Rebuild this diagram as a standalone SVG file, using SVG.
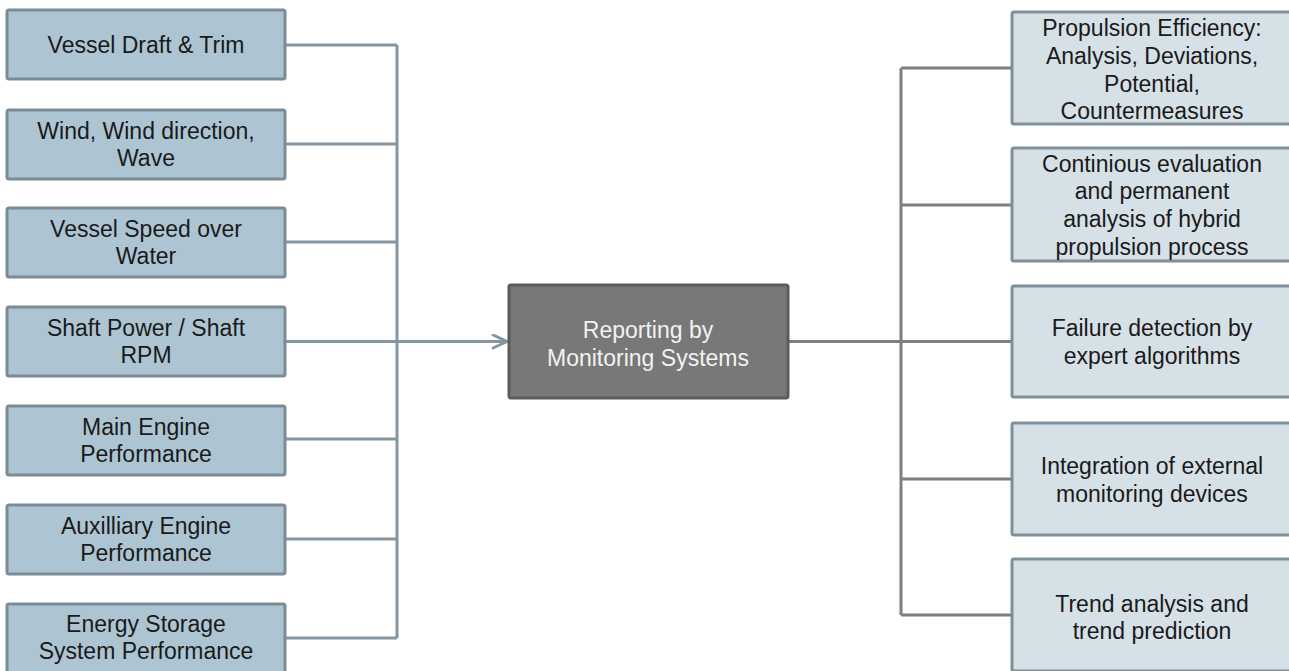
<svg xmlns="http://www.w3.org/2000/svg" width="1289" height="671" viewBox="0 0 1289 671">
<style>
text{font-family:"Liberation Sans",Arial,sans-serif;font-size:23px;text-anchor:middle}
.in rect{fill:#adc5d2;stroke:#7b8c96;stroke-width:3}
.in text{fill:#1a1a1a}
.out rect{fill:#d6e0e7;stroke:#7f909a;stroke-width:3}
.out text{fill:#1a1a1a}
.lc{fill:none;stroke:#8496a1;stroke-width:3}
.rc{fill:none;stroke:#7f7f7f;stroke-width:3}
</style>
<defs>
<marker id="arr" markerWidth="20" markerHeight="20" refX="16" refY="8" orient="auto" markerUnits="userSpaceOnUse">
<path d="M1,1 L16,8 L1,15" fill="none" stroke="#8496a1" stroke-width="3"/>
</marker>
</defs>
<g id="connectors">
<path class="lc" d="M285,45 H397 M285,144 H397 M285,242 H397 M285,439 H397 M285,539 H397 M285,638 H397 M397,45 V638"/>
<path class="lc" d="M285,341.5 H507" marker-end="url(#arr)"/>
<path class="rc" d="M788,341.5 H1012 M901,68 V615 M901,68 H1012 M901,205 H1012 M901,479 H1012 M901,615 H1012"/>
</g>
<g id="n1" class="in"><rect x="7" y="10" width="278" height="69" rx="2"/><text x="146" y="53">Vessel Draft &amp; Trim</text></g>
<g id="n2" class="in"><rect x="7" y="110" width="278" height="69" rx="2"/><text x="146" y="139">Wind, Wind direction,</text><text x="146" y="166">Wave</text></g>
<g id="n3" class="in"><rect x="7" y="208" width="278" height="69" rx="2"/><text x="146" y="237">Vessel Speed over</text><text x="146" y="264">Water</text></g>
<g id="n4" class="in"><rect x="7" y="307" width="278" height="69" rx="2"/><text x="146" y="336">Shaft Power / Shaft</text><text x="146" y="363">RPM</text></g>
<g id="n5" class="in"><rect x="7" y="406" width="278" height="69" rx="2"/><text x="146" y="435">Main Engine</text><text x="146" y="462">Performance</text></g>
<g id="n6" class="in"><rect x="7" y="505" width="278" height="69" rx="2"/><text x="146" y="534">Auxilliary Engine</text><text x="146" y="561">Performance</text></g>
<g id="n7" class="in"><rect x="7" y="604" width="278" height="69" rx="2"/><text x="146" y="632">Energy Storage</text><text x="146" y="659">System Performance</text></g>
<g id="center"><rect x="509" y="285" width="279" height="113" rx="2" fill="#787878" stroke="#5c5c5c" stroke-width="3"/><text x="648" y="338" fill="#f2f2f2">Reporting by</text><text x="648" y="366" fill="#f2f2f2">Monitoring Systems</text></g>
<g id="r1" class="out"><rect x="1012" y="12" width="280" height="112" rx="2"/><text x="1152" y="36">Propulsion Efficiency:</text><text x="1152" y="64">Analysis, Deviations,</text><text x="1152" y="92">Potential,</text><text x="1152" y="119">Countermeasures</text></g>
<g id="r2" class="out"><rect x="1012" y="148" width="280" height="113" rx="2"/><text x="1152" y="172">Continious evaluation</text><text x="1152" y="199">and permanent</text><text x="1152" y="227">analysis of hybrid</text><text x="1152" y="255">propulsion process</text></g>
<g id="r3" class="out"><rect x="1012" y="286" width="280" height="111" rx="2"/><text x="1152" y="336">Failure detection by</text><text x="1152" y="364">expert algorithms</text></g>
<g id="r4" class="out"><rect x="1012" y="423" width="280" height="112" rx="2"/><text x="1152" y="474">Integration of external</text><text x="1152" y="502">monitoring devices</text></g>
<g id="r5" class="out"><rect x="1012" y="559" width="280" height="112" rx="2"/><text x="1152" y="612">Trend analysis and</text><text x="1152" y="639">trend prediction</text></g>
</svg>
